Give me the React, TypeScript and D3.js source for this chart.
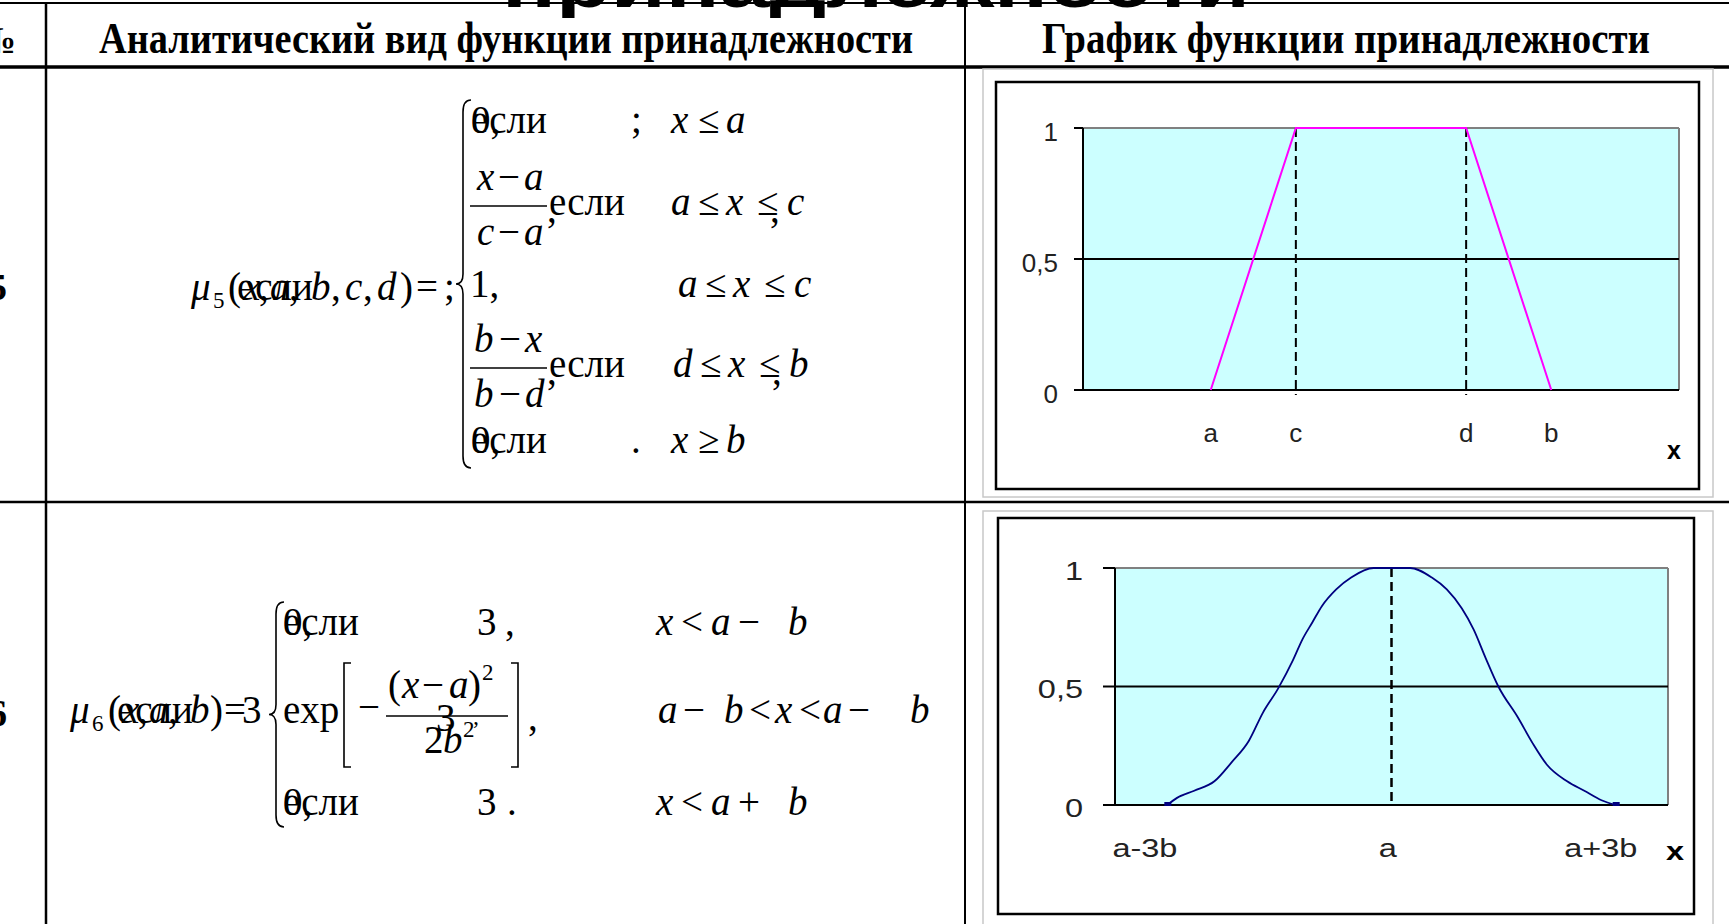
import * as d3 from 'd3';

const W = 1729;
const H = 924;

const serif = '"Liberation Serif", "Times New Roman", serif';
const sans = '"Liberation Sans", Arial, sans-serif';

// шапка таблицы
const titleText = 'принадлежности';
const headLeft = 'Аналитический вид функции принадлежности';
const headRight = 'График функции принадлежности';
const rowNumbers = ['5', '6'];

// трапециевидная функция
const trapLabels = ['a', 'c', 'd', 'b'];
const trapX = [3, 5, 9, 11];
const trapMu = [0, 1, 1, 0];
const trapDashed = [5, 9];

const yTicks = [0, 0.5, 1];
const yTickLabels = ['0', '0,5', '1'];

// гауссова функция (x в единицах b от a)
const bellLabels = ['a-3b', 'a', 'a+3b'];
const bellLabelX = [-3.3, -0.05, 2.8];
const bellT = [-3.0, -2.87, -2.64, -2.37, -2.14, -1.91, -1.72, -1.52, -1.32, -1.19, -1.06, -0.93, -0.74, -0.54, -0.24,
  0.25, 0.54, 0.74, 0.94, 1.1, 1.26, 1.43, 1.69, 1.89, 2.08, 2.35, 2.58, 2.81, 3.0];
const bellMu = [0, 0.03, 0.06, 0.1, 0.18, 0.27, 0.39, 0.49, 0.61, 0.7, 0.77, 0.84, 0.91, 0.96, 1,
  1, 0.96, 0.91, 0.83, 0.74, 0.62, 0.5, 0.37, 0.26, 0.17, 0.1, 0.06, 0.02, 0];
const bellCenter = [0];

function Tx({ x, y, i, size, anchor, children }: any) {
  return (
    <text x={x} y={y} fontStyle={i ? 'italic' : 'normal'} fontSize={size} textAnchor={anchor}>
      {children}
    </text>
  );
}

function brace(x: number, y0: number, y1: number) {
  const m = (y0 + y1) / 2;
  return `M${x + 8},${y0} Q${x},${y0} ${x},${y0 + 12} L${x},${m - 10} Q${x},${m} ${x - 7},${m} Q${x},${m} ${x},${m + 10} L${x},${y1 - 12} Q${x},${y1} ${x + 8},${y1}`;
}

function Esli({ x, y }: any) {
  // "0," и "если" наложены друг на друга, как в оригинале
  return (
    <g>
      <Tx x={x} y={y}>0,</Tx>
      <Tx x={x} y={y}>если</Tx>
    </g>
  );
}

// условие вида "p ≤ q ≤ r" с запятой под вторым знаком
function Cond({ x, y, p, q, r, op = '≤', comma }: any) {
  return (
    <g>
      <Tx x={x} y={y} i>{p}</Tx>
      <Tx x={x + 27} y={y}>{op}</Tx>
      <Tx x={x + 55} y={y} i>{q}</Tx>
      {r !== undefined && <Tx x={x + 86} y={y}>{op}</Tx>}
      {comma && <Tx x={x + 99} y={y + 7}>,</Tx>}
      {r !== undefined && <Tx x={x + 116} y={y} i>{r}</Tx>}
    </g>
  );
}

function Formula1() {
  return (
    <g fontFamily={serif} fontSize={39} fill="#000">
      <Tx x={191} y={300} i>μ</Tx>
      <Tx x={213} y={308} size={23}>5</Tx>
      <Tx x={228} y={300}>(</Tx>
      <Tx x={243} y={300} i>x</Tx>
      <Tx x={259} y={300}>,</Tx>
      <Tx x={270} y={300} i>a</Tx>
      <Tx x={289} y={300}>,</Tx>
      <Tx x={237} y={300}>если</Tx>
      <Tx x={311} y={300} i>b</Tx>
      <Tx x={331} y={300}>,</Tx>
      <Tx x={345} y={300} i>c</Tx>
      <Tx x={363} y={300}>,</Tx>
      <Tx x={377} y={300} i>d</Tx>
      <Tx x={400} y={300}>)</Tx>
      <Tx x={416} y={300}>=</Tx>
      <Tx x={444} y={300}>;</Tx>
      <path d={brace(463, 100, 468)} fill="none" stroke="#000" strokeWidth={1.6} />

      {/* строка 1 */}
      <Esli x={471} y={133} />
      <Tx x={631} y={133}>;</Tx>
      <Cond x={671} y={133} p="x" q="a" />

      {/* строка 2 */}
      <Tx x={477} y={190} i>x</Tx>
      <Tx x={498} y={190}>−</Tx>
      <Tx x={524} y={190} i>a</Tx>
      <line x1={470} x2={547} y1={206} y2={206} stroke="#000" strokeWidth={1.6} />
      <Tx x={477} y={245} i>c</Tx>
      <Tx x={498} y={245}>−</Tx>
      <Tx x={524} y={245} i>a</Tx>
      <Tx x={547} y={222}>,</Tx>
      <Tx x={549} y={215}>если</Tx>
      <Cond x={671} y={215} p="a" q="x" r="c" comma />

      {/* строка 3 */}
      <Tx x={470} y={297}>1,</Tx>
      <Cond x={678} y={297} p="a" q="x" r="c" />

      {/* строка 4 */}
      <Tx x={474} y={352} i>b</Tx>
      <Tx x={499} y={352}>−</Tx>
      <Tx x={525} y={352} i>x</Tx>
      <line x1={470} x2={547} y1={368} y2={368} stroke="#000" strokeWidth={1.6} />
      <Tx x={474} y={407} i>b</Tx>
      <Tx x={499} y={407}>−</Tx>
      <Tx x={525} y={407} i>d</Tx>
      <Tx x={547} y={384}>,</Tx>
      <Tx x={549} y={377}>если</Tx>
      <Cond x={673} y={377} p="d" q="x" r="b" comma />

      {/* строка 5 */}
      <Esli x={471} y={453} />
      <Tx x={631} y={453}>.</Tx>
      <Cond x={671} y={453} p="x" q="b" op="≥" />
    </g>
  );
}

function Formula2() {
  return (
    <g fontFamily={serif} fontSize={39} fill="#000">
      <Tx x={70} y={723} i>μ</Tx>
      <Tx x={92} y={731} size={23}>6</Tx>
      <Tx x={108} y={723}>(</Tx>
      <Tx x={122} y={723} i>x</Tx>
      <Tx x={138} y={723}>,</Tx>
      <Tx x={149} y={723} i>a</Tx>
      <Tx x={168} y={723}>,</Tx>
      <Tx x={117} y={723}>если</Tx>
      <Tx x={190} y={723} i>b</Tx>
      <Tx x={210} y={723}>)</Tx>
      <Tx x={224} y={723}>=</Tx>
      <Tx x={242} y={723}>3</Tx>
      <path d={brace(276, 602, 827)} fill="none" stroke="#000" strokeWidth={1.6} />

      {/* строка 1 */}
      <Esli x={283} y={635} />
      <Tx x={477} y={635}>3</Tx>
      <Tx x={505} y={635}>,</Tx>
      <Tx x={656} y={635} i>x</Tx>
      <Tx x={681} y={635}>&lt;</Tx>
      <Tx x={711} y={635} i>a</Tx>
      <Tx x={738} y={635}>−</Tx>
      <Tx x={788} y={635} i>b</Tx>

      {/* строка 2 */}
      <Tx x={283} y={723}>exp</Tx>
      <path d="M351,663 L344,663 L344,767 L351,767" fill="none" stroke="#000" strokeWidth={1.6} />
      <Tx x={358} y={720}>−</Tx>
      <Tx x={388} y={698}>(</Tx>
      <Tx x={402} y={698} i>x</Tx>
      <Tx x={422} y={698}>−</Tx>
      <Tx x={449} y={698} i>a</Tx>
      <Tx x={468} y={698}>)</Tx>
      <Tx x={482} y={680} size={23}>2</Tx>
      <line x1={386} x2={508} y1={716} y2={716} stroke="#000" strokeWidth={1.6} />
      <Tx x={436} y={731}>3</Tx>
      <Tx x={424} y={753}>2</Tx>
      <Tx x={443} y={753} i>b</Tx>
      <Tx x={463} y={737} size={23}>2</Tx>
      <Tx x={472} y={737} size={23}>’</Tx>
      <path d="M511,663 L518,663 L518,767 L511,767" fill="none" stroke="#000" strokeWidth={1.6} />
      <Tx x={528} y={730}>,</Tx>
      <Tx x={658} y={723} i>a</Tx>
      <Tx x={683} y={723}>−</Tx>
      <Tx x={724} y={723} i>b</Tx>
      <Tx x={749} y={723}>&lt;</Tx>
      <Tx x={775} y={723} i>x</Tx>
      <Tx x={799} y={723}>&lt;</Tx>
      <Tx x={823} y={723} i>a</Tx>
      <Tx x={848} y={723}>−</Tx>
      <Tx x={910} y={723} i>b</Tx>

      {/* строка 3 */}
      <Esli x={283} y={815} />
      <Tx x={477} y={815}>3</Tx>
      <Tx x={507} y={815}>.</Tx>
      <Tx x={656} y={815} i>x</Tx>
      <Tx x={681} y={815}>&lt;</Tx>
      <Tx x={711} y={815} i>a</Tx>
      <Tx x={738} y={815}>+</Tx>
      <Tx x={788} y={815} i>b</Tx>
    </g>
  );
}

function TrapChart() {
  const x = d3.scaleLinear().domain([0, 14]).range([1083, 1679]);
  const y = d3.scaleLinear().domain([0, 1]).range([390, 128]);
  const pts = trapX.map((v, i) => [v, trapMu[i]] as [number, number]);
  const line = d3.line<[number, number]>().x((d) => x(d[0])).y((d) => y(d[1]));
  const [x0, x1] = x.range();
  return (
    <g>
      <rect x={983} y={69} width={730} height={428} fill="#fff" stroke="#c8c8c8" strokeWidth={1.5} />
      <rect x={996} y={82} width={703} height={407} fill="#fff" stroke="#000" strokeWidth={2.5} />
      <rect x={x0} y={y(1)} width={x1 - x0} height={y(0) - y(1)} fill="#ccffff" />
      <line x1={x0} x2={x1} y1={y(1)} y2={y(1)} stroke="#808080" strokeWidth={2} />
      <line x1={x1} x2={x1} y1={y(1)} y2={y(0)} stroke="#808080" strokeWidth={2} />
      <line x1={x0} x2={x1} y1={y(0.5)} y2={y(0.5)} stroke="#000" strokeWidth={2} />
      <line x1={x0} x2={x0} y1={y(1)} y2={y(0)} stroke="#000" strokeWidth={2} />
      <line x1={x0} x2={x1} y1={y(0)} y2={y(0)} stroke="#000" strokeWidth={2} />
      {yTicks.map((t) => (
        <line key={t} x1={x0 - 9} x2={x0} y1={y(t)} y2={y(t)} stroke="#000" strokeWidth={2} />
      ))}
      {trapDashed.map((v) => (
        <line key={v} x1={x(v)} x2={x(v)} y1={y(1)} y2={y(0) + 5} stroke="#000" strokeWidth={2} strokeDasharray="9,5" />
      ))}
      <path d={line(pts) || ''} fill="none" stroke="#ff00ff" strokeWidth={2} />
      <g fontFamily={sans} fontSize={26} fill="#222">
        {yTicks.map((t, i) => (
          <text key={t} x={1058} y={y(t) + 4} textAnchor="end" dominantBaseline="central">
            {yTickLabels[i]}
          </text>
        ))}
        {trapLabels.map((l, i) => (
          <text key={l} x={x(trapX[i])} y={442} textAnchor="middle">
            {l}
          </text>
        ))}
        <text x={1674} y={459} textAnchor="middle" fontWeight="bold" fontSize={25} fill="#000">x</text>
      </g>
    </g>
  );
}

function BellChart() {
  const x = d3.scaleLinear().domain([-3.7, 3.7]).range([1115, 1668]);
  const y = d3.scaleLinear().domain([0, 1]).range([805, 568]);
  const pts = bellT.map((v, i) => [v, bellMu[i]] as [number, number]);
  const line = d3.line<[number, number]>().x((d) => x(d[0])).y((d) => y(d[1])).curve(d3.curveMonotoneX);
  const [x0, x1] = x.range();
  return (
    <g>
      <rect x={983} y={511} width={730} height={420} fill="#fff" stroke="#c8c8c8" strokeWidth={1.5} />
      <rect x={998} y={518} width={696} height={396} fill="#fff" stroke="#000" strokeWidth={2.5} />
      <rect x={x0} y={y(1)} width={x1 - x0} height={y(0) - y(1)} fill="#ccffff" />
      <line x1={x0} x2={x1} y1={y(1)} y2={y(1)} stroke="#808080" strokeWidth={2} />
      <line x1={x1} x2={x1} y1={y(1)} y2={y(0)} stroke="#808080" strokeWidth={2} />
      <line x1={x0} x2={x1} y1={y(0.5)} y2={y(0.5)} stroke="#000" strokeWidth={2} />
      <line x1={x0} x2={x0} y1={y(1)} y2={y(0)} stroke="#000" strokeWidth={2} />
      <line x1={x0 - 12} x2={x1} y1={y(0)} y2={y(0)} stroke="#000" strokeWidth={2} />
      {yTicks.map((t) => (
        <line key={t} x1={x0 - 12} x2={x0} y1={y(t)} y2={y(t)} stroke="#000" strokeWidth={2} />
      ))}
      {bellCenter.map((v) => (
        <line key={v} x1={x(v)} x2={x(v)} y1={y(1)} y2={y(0)} stroke="#000" strokeWidth={2.5} strokeDasharray="9,5" />
      ))}
      <path d={line(pts) || ''} fill="none" stroke="#000080" strokeWidth={1.8} />
      {[bellT[0], bellT[bellT.length - 1]].map((v) => (
        <rect key={v} x={x(v) - 3} y={y(0) - 3} width={7} height={4} fill="#000080" />
      ))}
      <g fontFamily={sans} fontSize={25} fill="#222">
        {yTicks.map((t, i) => (
          <text key={t} transform={`translate(1083,${y(t) + 3}) scale(1.3,1)`} textAnchor="end" dominantBaseline="central">
            {yTickLabels[i]}
          </text>
        ))}
        {bellLabels.map((l, i) => (
          <text key={l} transform={`translate(${x(bellLabelX[i])},857) scale(1.3,1)`} textAnchor="middle">
            {l}
          </text>
        ))}
        <text transform="translate(1675,860) scale(1.3,1)" textAnchor="middle" fontWeight="bold" fill="#000">x</text>
      </g>
    </g>
  );
}

export default function App() {
  return (
    <svg width={W} height={H} style={{ position: 'absolute', left: 0, top: 0, background: '#fff' }}>
      <defs>
        <clipPath id="titleClip">
          <rect x={0} y={0} width={W} height={18} />
        </clipPath>
      </defs>
      <rect width={W} height={H} fill="#fff" />

      {/* остаток заголовка слайда */}
      <text x={502} y={7} fontFamily={sans} fontWeight="bold" fontSize={72} textLength={748}
        lengthAdjust="spacingAndGlyphs" clipPath="url(#titleClip)">
        {titleText}
      </text>

      {/* линии таблицы */}
      <line x1={0} x2={W} y1={3} y2={3} stroke="#000" strokeWidth={2} />
      <line x1={0} x2={W} y1={67} y2={67} stroke="#000" strokeWidth={3.5} />
      <line x1={0} x2={W} y1={502} y2={502} stroke="#000" strokeWidth={2.5} />
      <line x1={46} x2={46} y1={3} y2={H} stroke="#000" strokeWidth={2.5} />
      <line x1={965} x2={965} y1={3} y2={H} stroke="#000" strokeWidth={2} />

      <g fontFamily={serif} fontWeight="bold" fontSize={44} fill="#000">
        <text x={16} y={53} textAnchor="end" fontSize={38}>№</text>
        <text x={99} y={53} textLength={814} lengthAdjust="spacingAndGlyphs">{headLeft}</text>
        <text x={1042} y={53} textLength={608} lengthAdjust="spacingAndGlyphs">{headRight}</text>
        <text x={7} y={300} textAnchor="end" fontSize={38}>{rowNumbers[0]}</text>
        <text x={7} y={726} textAnchor="end" fontSize={38}>{rowNumbers[1]}</text>
      </g>

      <Formula1 />
      <Formula2 />
      <TrapChart />
      <BellChart />
    </svg>
  );
}
